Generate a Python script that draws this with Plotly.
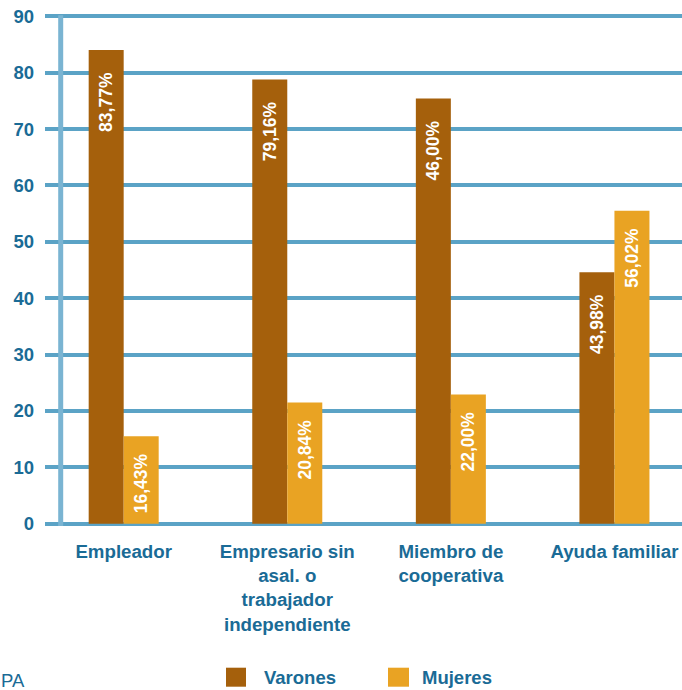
import plotly.graph_objects as go

# ---- data ----
categories = [
    "Empleador",
    "Empresario sin<br>asal. o<br>trabajador<br>independiente",
    "Miembro de<br>cooperativa",
    "Ayuda familiar",
]
series_names = ["Varones", "Mujeres"]
varones = [84.0, 78.8, 75.4, 44.6]
mujeres = [15.5, 21.5, 22.9, 55.5]
varones_labels = ["83,77%", "79,16%", "46,00%", "43,98%"]
mujeres_labels = ["16,43%", "20,84%", "22,00%", "56,02%"]
y_ticks = [0, 10, 20, 30, 40, 50, 60, 70, 80, 90]
source_text = "PA"

# ---- style ----
W, H = 682, 690
ML, MR, MT, MB = 45, 0, 14, 164
PW, PH = W - ML - MR, H - MT - MB
BLUE_TXT = "#1a6b96"
GRID = "#5ba3c6"
AXIS = "#7ab4d2"
COLORS = ["#a5600c", "#e9a323"]
FONT = "Liberation Sans, Arial, sans-serif"
PADS = ["\u00a0" * 4, "\u00a0" * 3]


def px_x(x):
    return (x - ML) / PW


def px_y(y):
    return (H - MB - y) / PH


fig = go.Figure()
for name, vals, labels, col, pad in zip(series_names, [varones, mujeres],
                                        [varones_labels, mujeres_labels], COLORS, PADS):
    fig.add_trace(go.Bar(
        name=name, x=categories, y=vals,
        text=[l + pad for l in labels],
        textposition="inside", insidetextanchor="end", textangle=-90,
        insidetextfont=dict(color="white", size=17.5, family=FONT, weight="bold"),
        marker=dict(color=col, line=dict(width=0)),
        cliponaxis=False, showlegend=False, hoverinfo="skip",
    ))

fig.update_layout(
    width=W, height=H,
    margin=dict(l=ML, r=MR, t=MT, b=MB, pad=0),
    paper_bgcolor="white", plot_bgcolor="white",
    barmode="group", bargap=0.572, bargroupgap=0,
    showlegend=False,
    font=dict(family=FONT, color=BLUE_TXT),
)
fig.update_xaxes(
    range=[-0.481, 3.413], showgrid=False, zeroline=False, showline=False,
    ticks="", ticklabelstandoff=12,
    tickfont=dict(size=18.7, family=FONT, color=BLUE_TXT, weight="bold"),
)
fig.update_yaxes(
    range=[-0.4, 90.4], tickvals=y_ticks, showgrid=True, gridcolor=GRID,
    gridwidth=4, zeroline=False, showline=False, ticks="",
    ticklabelstandoff=10,
    tickfont=dict(size=18.5, family=FONT, color=BLUE_TXT, weight="bold"),
)

# vertical axis line
fig.add_shape(type="line", xref="paper", yref="y", x0=px_x(60.7), x1=px_x(60.7),
              y0=-0.4, y1=90.2, line=dict(color=AXIS, width=5), layer="above")

# manual legend
legend_sq = [(226, 246), (388, 409)]
legend_tx = [261.5, 420]
for name, col, (a, b), tx in zip(series_names, COLORS, legend_sq, legend_tx):
    fig.add_shape(type="rect", xref="paper", yref="paper",
                  x0=px_x(a), x1=px_x(b), y0=px_y(686.7), y1=px_y(667.7),
                  fillcolor=col, line=dict(width=0))
    fig.add_annotation(text=name, xref="paper", yref="paper", x=px_x(tx),
                       y=px_y(677), xanchor="left", yanchor="middle",
                       showarrow=False,
                       font=dict(size=18.5, family=FONT, color=BLUE_TXT, weight="bold"))

fig.add_annotation(text=source_text, xref="paper", yref="paper", x=px_x(-1),
                   y=px_y(680), xanchor="left", yanchor="middle", showarrow=False,
                   font=dict(size=18.5, family=FONT, color=BLUE_TXT))

fig.write_html("out.html", config={"displayModeBar": False},
               post_script="document.body.style.margin='0';")
